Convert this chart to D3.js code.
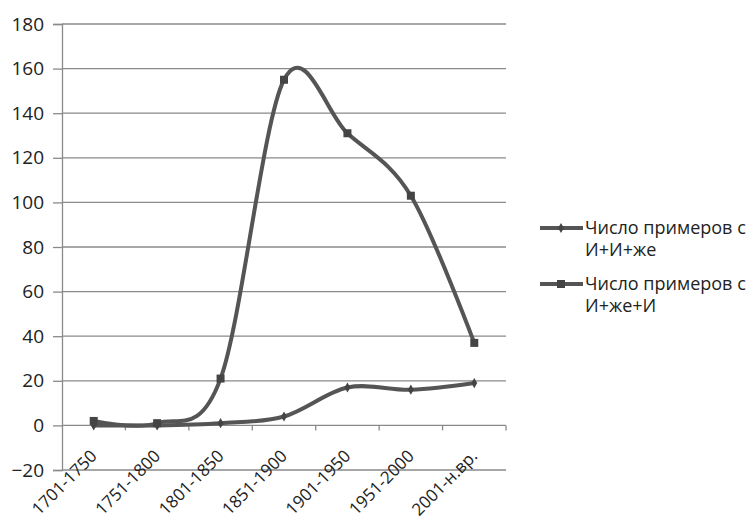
<!DOCTYPE html>
<html><head><meta charset="utf-8">
<script src="https://cdn.jsdelivr.net/npm/d3@7"></script>
<style>body{margin:0;background:#fff;} svg{display:block;}</style>
</head><body>
<svg id="chart" width="753" height="519"></svg>
<script>
const categories = ["1701-1750","1751-1800","1801-1850","1851-1900","1901-1950","1951-2000","2001-н.вр."];
const seriesIIzhe = [0, 0, 1, 4, 17, 16, 19];
const seriesIzheI = [2, 1, 21, 155, 131, 103, 37];
const legendLines = [["Число примеров с","И+И+же"],["Число примеров с","И+же+И"]];
const yTicks = [-20,0,20,40,60,80,100,120,140,160,180];

const svg = d3.select("#chart");
const font = "'Open Sans', sans-serif";
const lineColor = "#555555";
const gridColor = "#8a8a8a";
const textColor = "#222";

const x = d3.scaleBand().domain(categories).range([62, 506]);
const y = d3.scaleLinear().domain([-20, 180]).range([470, 24]);

// gridlines
svg.append("g").selectAll("line").data(yTicks).join("line")
  .attr("x1", 62).attr("x2", 506)
  .attr("y1", d => y(d)).attr("y2", d => y(d))
  .attr("stroke", gridColor).attr("stroke-width", 1.3);

// y axis
const yAxis = d3.axisLeft(y).tickValues(yTicks).tickSize(9).tickPadding(9);
const gy = svg.append("g").attr("transform", "translate(62,0)").call(yAxis);
gy.select(".domain").attr("stroke", gridColor).attr("stroke-width", 1.3);
gy.selectAll(".tick line").attr("stroke", gridColor).attr("stroke-width", 1.3);
gy.selectAll("text").attr("font-family", font).attr("font-size", 19).attr("fill", textColor);

// x axis ticks at the zero line, at band boundaries
const bounds = categories.map(c => x(c) + x.bandwidth());
svg.append("g").selectAll("line").data(bounds).join("line")
  .attr("x1", d => d).attr("x2", d => d)
  .attr("y1", y(0)).attr("y2", y(0) + 5)
  .attr("stroke", gridColor).attr("stroke-width", 1.3);

// x labels at bottom, rotated
const cx = d => x(d) + x.bandwidth()/2;
svg.append("g").selectAll("text").data(categories).join("text")
  .attr("x", d => cx(d))
  .attr("y", 453)
  .attr("transform", d => "rotate(-45 " + cx(d) + " 453)")
  .attr("text-anchor", "end")
  .attr("dy", "0.35em")
  .attr("font-family", font).attr("font-size", 17).attr("fill", textColor)
  .text(d => d);

const line = d3.line().x(d => cx(d.c)).y(d => y(d.v)).curve(d3.curveCardinal.tension(0));

const data1 = categories.map((c,i) => ({c, v: seriesIIzhe[i]}));
const data2 = categories.map((c,i) => ({c, v: seriesIzheI[i]}));

svg.append("path").datum(data2).attr("d", line)
  .attr("fill","none").attr("stroke", lineColor).attr("stroke-width", 4).attr("stroke-linejoin","round");
svg.append("path").datum(data1).attr("d", line)
  .attr("fill","none").attr("stroke", lineColor).attr("stroke-width", 4).attr("stroke-linejoin","round");

// markers
svg.append("g").selectAll("rect").data(data2).join("rect")
  .attr("x", d => cx(d.c) - 4).attr("y", d => y(d.v) - 4)
  .attr("width", 8).attr("height", 8).attr("fill", "#444");
svg.append("g").selectAll("path").data(data1).join("path")
  .attr("d", d3.symbol(d3.symbolDiamond, 30))
  .attr("transform", d => `translate(${cx(d.c)},${y(d.v)})`)
  .attr("fill", "#444");

// legend
const leg = svg.append("g");
legendLines.forEach((lines, i) => {
  const ly = 228 + i * 56;
  leg.append("line").attr("x1", 540).attr("x2", 583).attr("y1", ly).attr("y2", ly)
    .attr("stroke", lineColor).attr("stroke-width", 4);
  if (i === 0) {
    leg.append("path").attr("d", d3.symbol(d3.symbolDiamond, 30)).attr("transform", `translate(561,${ly})`).attr("fill","#444");
  } else {
    leg.append("rect").attr("x", 557).attr("y", ly - 4).attr("width", 8).attr("height", 8).attr("fill","#444");
  }
  lines.forEach((t, j) => {
    leg.append("text").attr("x", 585).attr("y", ly + j * 22).attr("dy", "0.35em")
      .attr("font-family", font).attr("font-size", 18).attr("fill", textColor).text(t);
  });
});
</script>
</body></html>
